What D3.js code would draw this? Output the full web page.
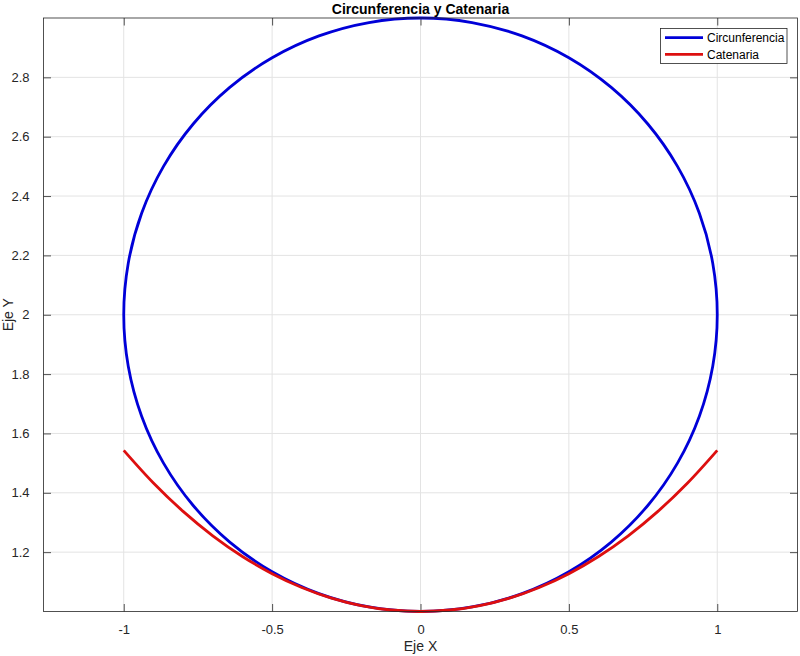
<!DOCTYPE html>
<html>
<head>
<meta charset="utf-8">
<script src="https://cdn.jsdelivr.net/npm/d3@7"></script>
<style>
  html, body { margin: 0; padding: 0; background: #fff; }
  svg { display: block; font-family: "Liberation Sans", Arial, Helvetica, sans-serif; }
</style>
</head>
<body>
<svg id="chart" width="800" height="656"></svg>
<script>
// ---- Data ----
const title = "Circunferencia y Catenaria";
const xLabel = "Eje X";
const yLabel = "Eje Y";
const seriesNames = ["Circunferencia", "Catenaria"];

// Circle sampled every 10 degrees
const circleX = [1.0000, 0.9848, 0.9397, 0.8660, 0.7660, 0.6428, 0.5000, 0.3420, 0.1736, 0.0000,
                 -0.1736, -0.3420, -0.5000, -0.6428, -0.7660, -0.8660, -0.9397, -0.9848, -1.0000,
                 -0.9848, -0.9397, -0.8660, -0.7660, -0.6428, -0.5000, -0.3420, -0.1736, 0.0000,
                 0.1736, 0.3420, 0.5000, 0.6428, 0.7660, 0.8660, 0.9397, 0.9848];
const circleY = [2.0000, 2.1736, 2.3420, 2.5000, 2.6428, 2.7660, 2.8660, 2.9397, 2.9848, 3.0000,
                 2.9848, 2.9397, 2.8660, 2.7660, 2.6428, 2.5000, 2.3420, 2.1736, 2.0000,
                 1.8264, 1.6580, 1.5000, 1.3572, 1.2340, 1.1340, 1.0603, 1.0152, 1.0000,
                 1.0152, 1.0603, 1.1340, 1.2340, 1.3572, 1.5000, 1.6580, 1.8264];

// Catenary points
const catX = [-1.0, -0.9, -0.8, -0.7, -0.6, -0.5, -0.4, -0.3, -0.2, -0.1, 0.0,
              0.1, 0.2, 0.3, 0.4, 0.5, 0.6, 0.7, 0.8, 0.9, 1.0];
const catY = [1.5431, 1.4331, 1.3374, 1.2552, 1.1855, 1.1276, 1.0811, 1.0453, 1.0201, 1.0050, 1.0000,
              1.0050, 1.0201, 1.0453, 1.0811, 1.1276, 1.1855, 1.2552, 1.3374, 1.4331, 1.5431];

const xTicks = [-1, -0.5, 0, 0.5, 1];
const yTicks = [1.2, 1.4, 1.6, 1.8, 2, 2.2, 2.4, 2.6, 2.8];
const xDomain = [-1.2704, 1.2704];
const yDomain = [1, 3];

// ---- Layout ----
const svg = d3.select("#chart");
const L = 43.5, R = 797.5, T = 18, B = 611.5;
const axisColor = "#262626";
const gridColor = "#e3e3e3";
const blue = "#0000d8";
const red = "#dd0f0f";

const x = d3.scaleLinear().domain(xDomain).range([L, R]);
const y = d3.scaleLinear().domain(yDomain).range([B, T]);

// grid
const grid = svg.append("g");
grid.selectAll("line.gx").data(xTicks).join("line")
  .attr("x1", d => x(d)).attr("x2", d => x(d))
  .attr("y1", T).attr("y2", B)
  .attr("stroke", gridColor).attr("stroke-width", 1);
grid.selectAll("line.gy").data(yTicks).join("line")
  .attr("y1", d => y(d)).attr("y2", d => y(d))
  .attr("x1", L).attr("x2", R)
  .attr("stroke", gridColor).attr("stroke-width", 1);

// axes (ticks inward)
const tickLen = 7.5;
const fmt = d => String(d);
const gB = svg.append("g").attr("transform", `translate(0,${B})`)
  .call(d3.axisBottom(x).tickValues(xTicks).tickFormat(fmt).tickSizeInner(-tickLen).tickSizeOuter(0).tickPadding(13));
const gT = svg.append("g").attr("transform", `translate(0,${T})`)
  .call(d3.axisTop(x).tickValues(xTicks).tickFormat("").tickSizeInner(-tickLen).tickSizeOuter(0));
const gL = svg.append("g").attr("transform", `translate(${L},0)`)
  .call(d3.axisLeft(y).tickValues(yTicks).tickFormat(fmt).tickSizeInner(-tickLen).tickSizeOuter(0).tickPadding(14));
const gR = svg.append("g").attr("transform", `translate(${R},0)`)
  .call(d3.axisRight(y).tickValues(yTicks).tickFormat("").tickSizeInner(-tickLen).tickSizeOuter(0));
[gB, gT, gL, gR].forEach(g => {
  g.select(".domain").remove();
  g.selectAll("line").attr("stroke", axisColor).attr("stroke-width", 0.8);
  g.selectAll("text").attr("fill", axisColor).attr("font-size", 13)
    .attr("font-family", "'Liberation Sans', Arial, Helvetica, sans-serif");
});

// curves
const lineGen = d3.line().x(d => x(d[0])).y(d => y(d[1]));
const circlePts = circleX.map((v, i) => [v, circleY[i]]);
const catPts = catX.map((v, i) => [v, catY[i]]);

svg.append("path").datum(circlePts)
  .attr("d", lineGen.curve(d3.curveCatmullRomClosed.alpha(0.5)))
  .attr("fill", "none").attr("stroke", blue).attr("stroke-width", 2.8);
svg.append("path").datum(catPts)
  .attr("d", d3.line().x(d => x(d[0])).y(d => y(d[1])).curve(d3.curveCatmullRom.alpha(0.5)))
  .attr("fill", "none").attr("stroke", red).attr("stroke-width", 2.8);

// box
svg.append("rect").attr("x", L).attr("y", T).attr("width", R - L).attr("height", B - T)
  .attr("fill", "none").attr("stroke", axisColor).attr("stroke-width", 0.8);

// title & labels
svg.append("text").attr("x", (L + R) / 2).attr("y", 13.5).attr("text-anchor", "middle")
  .attr("font-size", 14).attr("font-weight", "bold").attr("fill", "#000").text(title);
svg.append("text").attr("x", (L + R) / 2).attr("y", 651).attr("text-anchor", "middle")
  .attr("font-size", 14).attr("fill", axisColor).text(xLabel);
svg.append("text").attr("transform", `translate(13,${(T + B) / 2}) rotate(-90)`).attr("text-anchor", "middle")
  .attr("font-size", 14).attr("fill", axisColor).text(yLabel);

// legend
const lg = svg.append("g");
lg.append("rect").attr("x", 660.5).attr("y", 28.5).attr("width", 126.5).attr("height", 35)
  .attr("fill", "#fff").attr("stroke", axisColor).attr("stroke-width", 0.8);
const colors = [blue, red];
const rows = [37.7, 54.3];
seriesNames.forEach((name, i) => {
  lg.append("line").attr("x1", 665).attr("x2", 703).attr("y1", rows[i]).attr("y2", rows[i])
    .attr("stroke", colors[i]).attr("stroke-width", 2.8);
  lg.append("text").attr("x", 707).attr("y", rows[i]).attr("dy", "0.35em")
    .attr("font-size", 12).attr("fill", "#000").text(name);
});
</script>
</body>
</html>
